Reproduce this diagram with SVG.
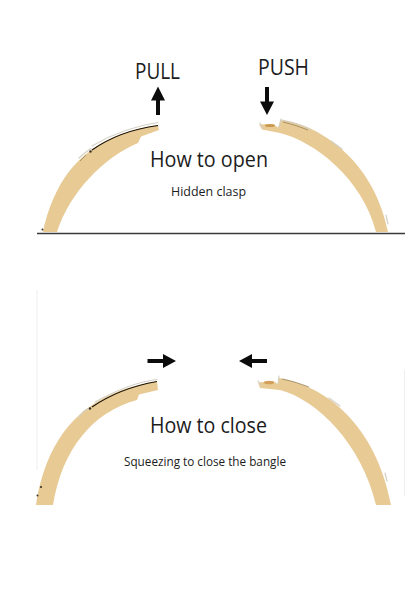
<svg xmlns="http://www.w3.org/2000/svg" width="416" height="591" viewBox="0 0 416 591">
  <style>
    text { font-family: "Open Sans", "Noto Sans", "Liberation Sans", sans-serif; fill: #1c1c1c; }
    .gold { fill: #e8ca94; }
    .edge { fill: none; stroke: #1a1208; stroke-width: 1.2; }
    .shine { fill: none; stroke: #d4d0c4; stroke-width: 1.2; stroke-linecap: round; }
    .seam { fill: none; stroke: #8a7a58; stroke-width: 0.7; }
    .dot { fill: #3a3226; }
    .rule { stroke: #3a3a3a; stroke-width: 1.4; }
    .faint { stroke: #eeeeee; stroke-width: 1; }
    .head { font-size: 21px; }
    .title { font-size: 21.5px; }
    .small { font-size: 12.5px; }
  </style>
  <rect width="416" height="591" fill="#ffffff"/>

  <g id="divider">
    <line class="rule" x1="37" y1="233.500" x2="405" y2="233.500"/>
    <line class="faint" x1="37" y1="290" x2="37" y2="470"/>
    <line class="faint" x1="404.500" y1="370" x2="404.500" y2="496"/>
  </g>

  <g id="open-left-band">
    <path class="gold" d="M43 232C58 165 95 135 158 125L159 130L141 136.500L138 143C103 158 70 192 57 232Z"/>
    <path class="shine" d="M79 158C83 154 87 151 91 148.500M92 146C112 134 134 126 158 122.500"/>
    <path class="edge" d="M92 150Q120 130.500 158 125.500"/>
    <path class="seam" d="M80 161L86 155"/>
    <circle class="dot" cx="90.500" cy="151.500" r="1.200"/>
    <circle class="dot" cx="42.500" cy="229.500" r="1"/>
  </g>
  <g id="open-right-band">
    <path class="gold" d="M259 124.500L273 124L278 127.500L281 120C325 126 375 165 388 232L376 232C362 178 315 142 280 133L262 129.500Z"/>
    <path class="shine" d="M260 123L263 128.500M281 119L279 127M282 120C292 122 302 125 310 129M331 141L342 149M386 215L388 224"/>
    <path class="seam" d="M283 122C292 124 300 127 308 130"/>
    <ellipse cx="270" cy="125.500" rx="5" ry="1.500" fill="#c99a4e"/>
  </g>
  <g id="close-left-band">
    <path class="gold" d="M36 505C48 430 88 392 157 381.500L158 390L139 394.500L137 400C92 412 62 450 53 505Z"/>
    <path class="edge" d="M92 407Q120 388 157 381.500"/>
    <path class="shine" d="M79 417C82 412 86 409 90 408M95 402C115 391 135 382 157 379.500"/>
    <circle class="dot" cx="90" cy="408.500" r="1.200"/>
    <circle class="dot" cx="41" cy="487" r="1.100"/>
    <circle class="dot" cx="37.500" cy="495.500" r="1"/>
  </g>
  <g id="close-right-band">
    <path class="gold" d="M258 382.500L273 381L278 384L279 378C335 388 378 435 391 505L376 505C362 445 318 400 280 390L260 388Z"/>
    <path class="shine" d="M258 381L262 386M279 376L278 383M329 398L340 406M385 473L387 481"/>
    <path class="seam" d="M282 379C292 381 301 384 309 387"/>
    <ellipse cx="269" cy="382.500" rx="5" ry="1.800" fill="#d2a05a"/>
  </g>

  <g id="arrows" fill="#0c0c0c">
    <path id="arrow-pull" d="M158 86.500L165 100.500H160V115H156V100.500H151Z"/>
    <path id="arrow-push" d="M267 115L260 101.500H265V87H269V101.500H274Z"/>
    <path id="arrow-in-right" d="M176 361L163 354V359H147.500V363H163V368Z"/>
    <path id="arrow-in-left" d="M239 361L252 354V359H267V363H252V368Z"/>
  </g>

  <g id="labels">
    <text class="head" x="135" y="79" textLength="45" lengthAdjust="spacingAndGlyphs">PULL</text>
    <text class="head" x="258" y="75" textLength="51" lengthAdjust="spacingAndGlyphs">PUSH</text>
    <text class="title" x="150" y="167" textLength="118" lengthAdjust="spacingAndGlyphs">How to open</text>
    <text class="small" x="171" y="196" textLength="75" lengthAdjust="spacingAndGlyphs">Hidden clasp</text>
    <text class="title" x="150" y="433" textLength="117" lengthAdjust="spacingAndGlyphs">How to close</text>
    <text class="small" x="124" y="466" textLength="162" lengthAdjust="spacingAndGlyphs">Squeezing to close the bangle</text>
  </g>
</svg>
